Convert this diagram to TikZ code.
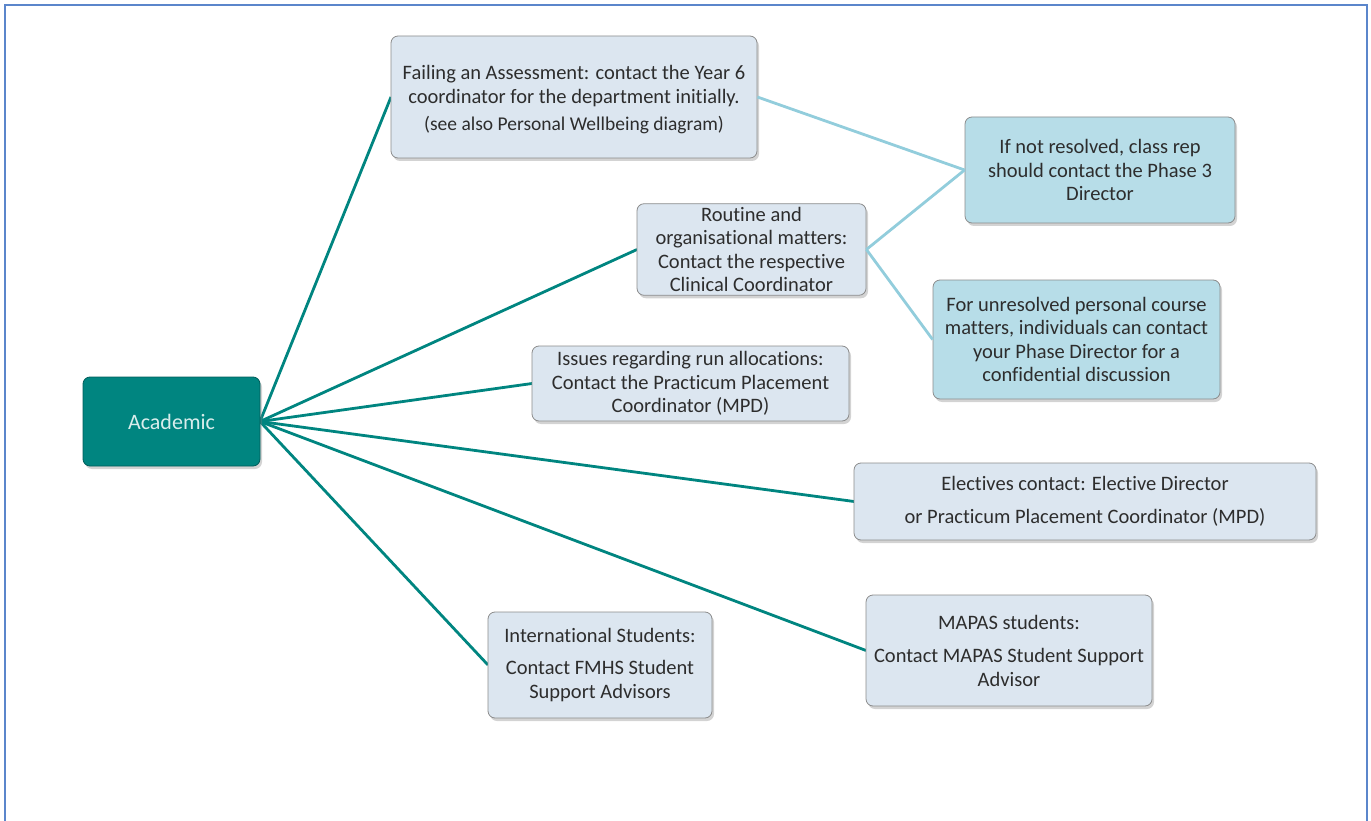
\documentclass[tikz,border=0pt]{standalone}
\usepackage{fontspec}
\setmainfont{Carlito}[Ligatures=NoCommon]
\usepackage{tikz}
\usetikzlibrary{shapes,positioning,shadows,calc}
\definecolor{acteal}{RGB}{0,133,128}
\definecolor{acpale}{RGB}{220,230,240}
\definecolor{acaqua}{RGB}{183,221,232}
\definecolor{aclink}{RGB}{146,205,220}
\definecolor{acframe}{RGB}{91,134,203}
\definecolor{actext}{RGB}{45,45,45}
\newcommand{\cbox}{acpale}
\newcommand{\cnext}{acaqua}
\newcommand{\ctop}{acteal}
\tikzset{
	every node/.style = { align = center, font = \fontsize{20.5}{23.5}\selectfont, text = actext },
	box/.style = { rectangle, rounded corners=7pt, draw=black!45, line width=0.8pt, fill=\cbox,
		drop shadow={opacity=0.35, shadow xshift=2pt, shadow yshift=-3pt} },
	nxt/.style = { box, fill=\cnext },
	top/.style = { box, fill=\ctop, draw=\ctop!70!black, text=white!85!\ctop, font=\fontsize{22}{26}\selectfont },
	lnk/.style = { draw=acteal, line width=2.8pt },
	alt/.style = { draw=aclink, line width=2.8pt },
	frame/.style = { draw=acframe, line width=2pt },
}

\begin{document}
\begin{tikzpicture}[x=1pt, y=-1pt]
\useasboundingbox (0,0) rectangle (1371,821);
\draw[frame] (5,823) -- (5,5) -- (1367,5) -- (1367,823);

% connectors first, boxes drawn over them
\coordinate (hub) at (260,421.5);
\draw[lnk] (hub) -- (391,97);
\draw[lnk] (hub) -- (637,249.5);
\draw[lnk] (hub) -- (532,383.5);
\draw[lnk] (hub) -- (854,501.5);
\draw[lnk] (hub) -- (866,650.5);
\draw[lnk] (hub) -- (488,665);

\node (acad)  [top, minimum width=177, minimum height=89]  at (171.5,421.5) {Academic};

\node (fail)  [box, minimum width=366, minimum height=122] at (574,97) {};
\node (failt) [anchor=center] at (574,100)
	{Failing an Assessment: contact the Year 6 \\ coordinator for the department initially. \\[4pt]
	 {\fontsize{19.5}{22}\selectfont (see also Personal Wellbeing diagram)}};
\node (rout)  [box, minimum width=229, minimum height=89]  at (751.5,249.5)
	{Routine and \\ organisational matters: \\ Contact the respective \\ Clinical Coordinator};
\node (iss)   [box, minimum width=317, minimum height=75]  at (690.5,383.5)
	{Issues regarding run allocations: \\ Contact the Practicum Placement \\ Coordinator (MPD)};
\node (elec)  [box, minimum width=462, minimum height=77]  at (1085,501.5)
	{Electives contact: Elective Director \\[10pt] or Practicum Placement Coordinator (MPD)};
\node (intl)  [box, minimum width=224, minimum height=106] at (600,665)
	{International Students: \\[9pt] Contact FMHS Student \\ Support Advisors};
\node (mapas) [box, minimum width=286, minimum height=111] at (1009,650.5)
	{MAPAS students: \\[10pt] Contact MAPAS Student Support \\ Advisor};

\node (phase) [nxt, minimum width=270, minimum height=106] at (1100,170)
	{If not resolved, class rep \\ should contact the Phase 3 \\ Director};
\node (pers)  [nxt, minimum width=287, minimum height=119] at (1076.5,339.5)
	{For unresolved personal course \\ matters, individuals can contact \\ your Phase Director for a \\ confidential discussion};

\draw[alt] (fail.east) -- (phase.west);
\draw[alt] (rout.east) -- (phase.west);
\draw[alt] (rout.east) -- (pers.west);

\end{tikzpicture}
\end{document}
